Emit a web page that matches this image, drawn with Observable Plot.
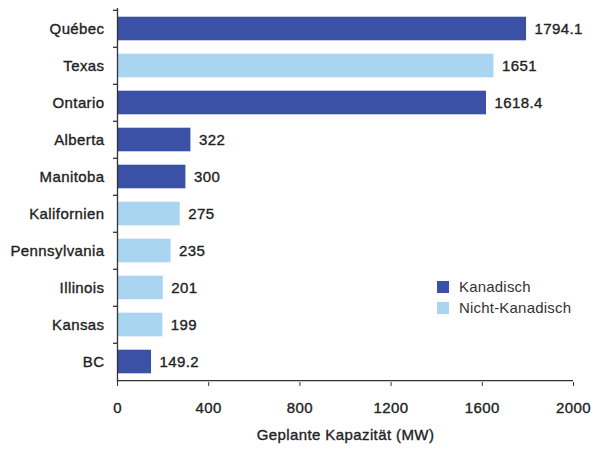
<!DOCTYPE html>
<html><head><meta charset="utf-8">
<script src="https://cdn.jsdelivr.net/npm/d3@7"></script>
<script src="https://cdn.jsdelivr.net/npm/@observablehq/plot@0.6"></script>
<style>
body{margin:0;background:#fff;font-family:"Liberation Sans",Arial,sans-serif;}
#chart{position:relative;width:591px;height:449px;}
#chart svg text{letter-spacing:0.4px;stroke:#222;stroke-width:0.35px;paint-order:stroke;}
.legend{position:absolute;left:437px;top:276px;font-size:15px;color:#333;line-height:21px;letter-spacing:0.2px;}
.legend .item{display:flex;align-items:center;height:21px;}
.legend .sw{width:12px;height:12px;margin-right:10px;}
</style></head><body><div id="chart"></div>
<script>
const regions = ["Québec","Texas","Ontario","Alberta","Manitoba","Kalifornien","Pennsylvania","Illinois","Kansas","BC"];
const capacities = [1794.1,1651,1618.4,322,300,275,235,201,199,149.2];
const valueLabels = ["1794.1","1651","1618.4","322","300","275","235","201","199","149.2"];
const groups = ["Kanadisch","Nicht-Kanadisch","Kanadisch","Kanadisch","Kanadisch","Nicht-Kanadisch","Nicht-Kanadisch","Nicht-Kanadisch","Nicht-Kanadisch","Kanadisch"];
const groupNames = ["Kanadisch","Nicht-Kanadisch"];
const groupColors = ["#3b51a5","#a9d5f0"];
const xTicks = [0,400,800,1200,1600,2000];
const xTitle = "Geplante Kapazität (MW)";

const data = regions.map((r,i)=>({region:r,value:capacities[i],label:valueLabels[i],group:groups[i]}));

const W=591,H=449,mT=8,mB=67,mL=117,mR=18;
const step=(H-mT-mB)/regions.length;
const pxPerUnit=(W-mL-mR)/2000;
const axisColor="#333";

const plot = Plot.plot({
  width:W,height:H,marginTop:mT,marginBottom:mB,marginLeft:mL,marginRight:mR,
  style:{fontFamily:'"Liberation Sans",Arial,sans-serif',fontSize:"15px",color:"#222",background:"#fff"},
  x:{domain:[0,2000]},
  y:{domain:regions,padding:0},
  color:{domain:groupNames,range:groupColors},
  marks:[
    Plot.barX(data,{y:"region",x:"value",fill:"group",insetTop:6.7,insetBottom:6.7}),
    Plot.text(data,{y:"region",x:"value",text:"label",textAnchor:"start",dx:8,fill:"#222",fontSize:15}),
    Plot.axisY({tickSize:0,tickPadding:13,label:null,fontSize:15,fill:"#222"}),
    Plot.axisX({ticks:xTicks,tickFormat:d=>String(d),tickSize:4,tickPadding:16,label:null,stroke:axisColor,fontSize:15,fill:"#222"}),
    Plot.ruleX([0],{stroke:axisColor,strokeWidth:1.3}),
    Plot.ruleY(data,{y:"region",x1:-4/pxPerUnit,x2:0,dy:-step/2,stroke:axisColor,strokeWidth:1.3}),
    Plot.ruleY([regions[regions.length-1]],{x1:0,x2:2000,dy:step/2,stroke:axisColor,strokeWidth:1.3}),
    Plot.text([xTitle],{frameAnchor:"bottom",dy:57,fontSize:15,fill:"#222"})
  ]
});
const chart=document.getElementById("chart");
chart.appendChild(plot);
const leg=document.createElement("div");
leg.className="legend";
groupNames.forEach((g,i)=>{
  const it=document.createElement("div");it.className="item";
  const sw=document.createElement("span");sw.className="sw";sw.style.background=groupColors[i];
  const t=document.createElement("span");t.textContent=g;
  it.appendChild(sw);it.appendChild(t);leg.appendChild(it);
});
chart.appendChild(leg);
</script></body></html>
